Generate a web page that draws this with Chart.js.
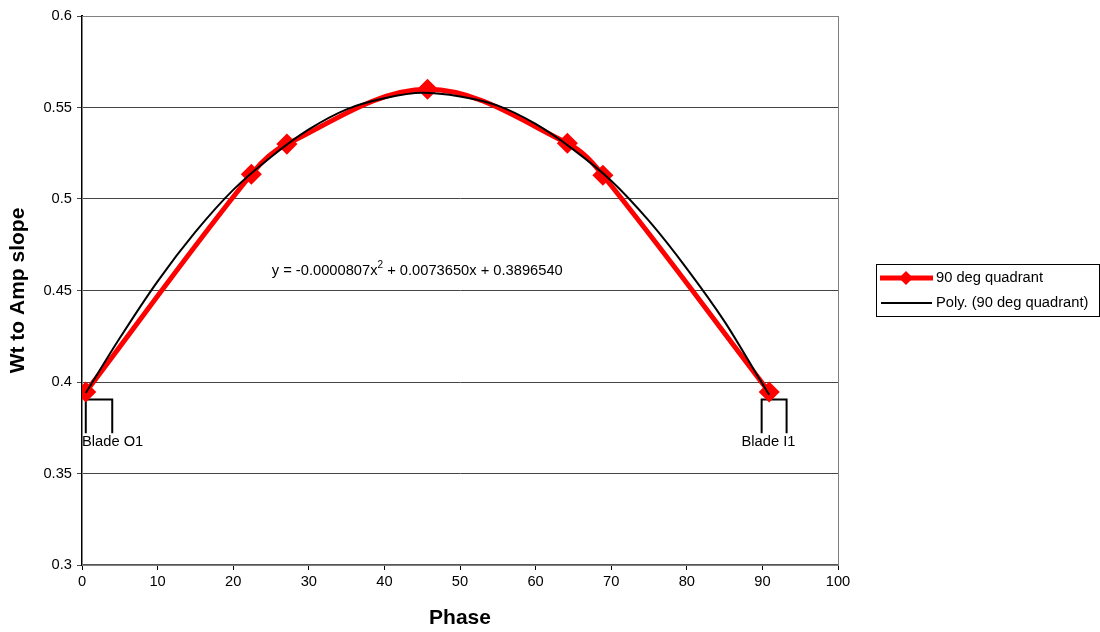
<!DOCTYPE html>
<html>
<head>
<meta charset="utf-8">
<script src="https://cdn.jsdelivr.net/npm/chart.js@4.4.1/dist/chart.umd.min.js"></script>
<style>
  html, body { margin: 0; padding: 0; background: #fff; }
  #wrap { width: 1100px; height: 632px; position: relative; }
</style>
</head>
<body>
<div id="wrap"><canvas id="chart"></canvas></div>
<script>
// ---- Data ----
const phase = [0.5, 22.4, 27.1, 45.7, 64.2, 68.9, 90.9];
const slope = [0.3945, 0.5135, 0.530, 0.560, 0.5305, 0.513, 0.3945];

// Poly. trendline as it is drawn
const polyX = [0.5, 5, 10, 15, 20, 25, 30, 35, 40, 45, 50, 55, 60, 65, 70, 75, 80, 85, 90, 90.9];
const polyY = [0.394, 0.424, 0.455, 0.482, 0.505, 0.523, 0.538, 0.549, 0.555, 0.558, 0.556, 0.551, 0.541, 0.527, 0.510, 0.488, 0.462, 0.433, 0.399, 0.393];

// bracket annotations
const bracketO1X = [0.5, 0.5, 4.0, 4.0];
const bracketI1X = [89.9, 89.9, 93.2, 93.2];
const bracketY = [0.372, 0.3905, 0.3905, 0.372];

const xTicks = { min: 0, max: 100, step: 10 };
const yTicks = { min: 0.3, max: 0.6, step: 0.05 };

const seriesLabels = ['90 deg quadrant', 'Poly. (90 deg quadrant)'];
const equation = ['y = -0.0000807x', '2', ' + 0.0073650x + 0.3896540'];

const FONT = 'Liberation Sans, Arial, sans-serif';
const FS = 14.7;

const toPts = (xs, ys) => xs.map((x, i) => ({ x, y: ys[i] }));

// ---- Extras: plot frame, text labels, legend ----
const extras = {
    id: 'extras',
    beforeDatasetsDraw(chart) {
        const { ctx, chartArea: a } = chart;
        ctx.save();
        ctx.strokeStyle = '#808080';
        ctx.lineWidth = 1;
        ctx.strokeRect(a.left + 0.5, a.top + 0.5, a.right - a.left, a.bottom - a.top);
        ctx.restore();
    },
    afterDatasetsDraw(chart) {
        const { ctx, scales: { x, y } } = chart;
        ctx.save();
        ctx.fillStyle = '#000';
        ctx.font = FS + 'px ' + FONT;
        ctx.textBaseline = 'middle';

        // equation
        let ex = x.getPixelForValue(25.1);
        const ey = y.getPixelForValue(0.4605);
        ctx.textAlign = 'left';
        ctx.fillText(equation[0], ex, ey);
        ex += ctx.measureText(equation[0]).width;
        ctx.font = '10px ' + FONT;
        ctx.fillText(equation[1], ex, ey - 6);
        ex += ctx.measureText(equation[1]).width;
        ctx.font = FS + 'px ' + FONT;
        ctx.fillText(equation[2], ex, ey);

        // blade labels
        ctx.fillText('Blade O1', x.getPixelForValue(0), y.getPixelForValue(0.3672));
        ctx.textAlign = 'center';
        ctx.fillText('Blade I1', x.getPixelForValue(90.8), y.getPixelForValue(0.3672));

        // legend
        const lx = 876, ly = 264, lw = 223, lh = 52;
        ctx.strokeStyle = '#000';
        ctx.lineWidth = 1;
        ctx.strokeRect(lx + 0.5, ly + 0.5, lw, lh);

        ctx.textAlign = 'left';
        const r1 = 278, r2 = 303;
        ctx.strokeStyle = '#ff0000';
        ctx.lineWidth = 5;
        ctx.beginPath(); ctx.moveTo(880, r1); ctx.lineTo(933, r1); ctx.stroke();
        ctx.fillStyle = '#ff0000';
        ctx.beginPath();
        ctx.moveTo(906, r1 - 7); ctx.lineTo(913, r1); ctx.lineTo(906, r1 + 7); ctx.lineTo(899, r1);
        ctx.closePath(); ctx.fill();

        ctx.strokeStyle = '#000';
        ctx.lineWidth = 2;
        ctx.beginPath(); ctx.moveTo(881, r2); ctx.lineTo(932, r2); ctx.stroke();

        ctx.fillStyle = '#000';
        ctx.fillText(seriesLabels[0], 936, r1);
        ctx.fillText(seriesLabels[1], 936, r2);
        ctx.restore();
    }
};

const bracketStyle = {
    borderColor: '#000',
    borderWidth: 2,
    pointRadius: 0,
    showLine: true,
    tension: 0,
    order: 3,
};

new Chart(document.getElementById('chart'), {
    type: 'scatter',
    data: {
        datasets: [
            {
                label: seriesLabels[0],
                data: toPts(phase, slope),
                showLine: true,
                borderColor: '#ff0000',
                backgroundColor: '#ff0000',
                borderWidth: 5,
                pointStyle: 'rectRot',
                pointRadius: 7,
                pointHoverRadius: 7,
                tension: 0.35,
                order: 2,
            },
            {
                label: seriesLabels[1],
                data: toPts(polyX, polyY),
                showLine: true,
                borderColor: '#000',
                borderWidth: 2,
                pointRadius: 0,
                tension: 0.4,
                cubicInterpolationMode: 'monotone',
                order: 1,
            },
            { label: 'O1', data: toPts(bracketO1X, bracketY), ...bracketStyle },
            { label: 'I1', data: toPts(bracketI1X, bracketY), ...bracketStyle },
        ],
    },
    options: {
        responsive: true,
        maintainAspectRatio: false,
        animation: false,
        layout: { padding: { top: 16, right: 262, left: 0, bottom: 0 } },
        plugins: {
            legend: { display: false },
            tooltip: { enabled: false },
        },
        scales: {
            x: {
                type: 'linear',
                min: xTicks.min, max: xTicks.max,
                afterFit: (s) => { s.height = 67; },
                ticks: { stepSize: xTicks.step, color: '#000', font: { family: FONT, size: FS }, padding: 3 },
                grid: { drawOnChartArea: false, drawTicks: true, tickLength: 5, color: '#000' },
                border: { color: '#555', width: 2 },
                title: { display: true, text: 'Phase', color: '#000', font: { family: FONT, size: 21, weight: 'bold' }, padding: { top: 4, bottom: 1 } },
            },
            y: {
                min: yTicks.min, max: yTicks.max,
                afterFit: (s) => { s.width = 82; },
                ticks: {
                    stepSize: yTicks.step, color: '#000', font: { family: FONT, size: FS }, padding: 5,
                    callback: (v) => String(Math.round(v * 100) / 100),
                },
                grid: { color: '#444', tickLength: 5, lineWidth: 1 },
                border: { color: '#000', width: 2 },
                title: { display: true, text: 'Wt to Amp slope', color: '#000', font: { family: FONT, size: 21, weight: 'bold' }, padding: { top: 6, bottom: 0 } },
            },
        },
    },
    plugins: [extras],
});
</script>
</body>
</html>
